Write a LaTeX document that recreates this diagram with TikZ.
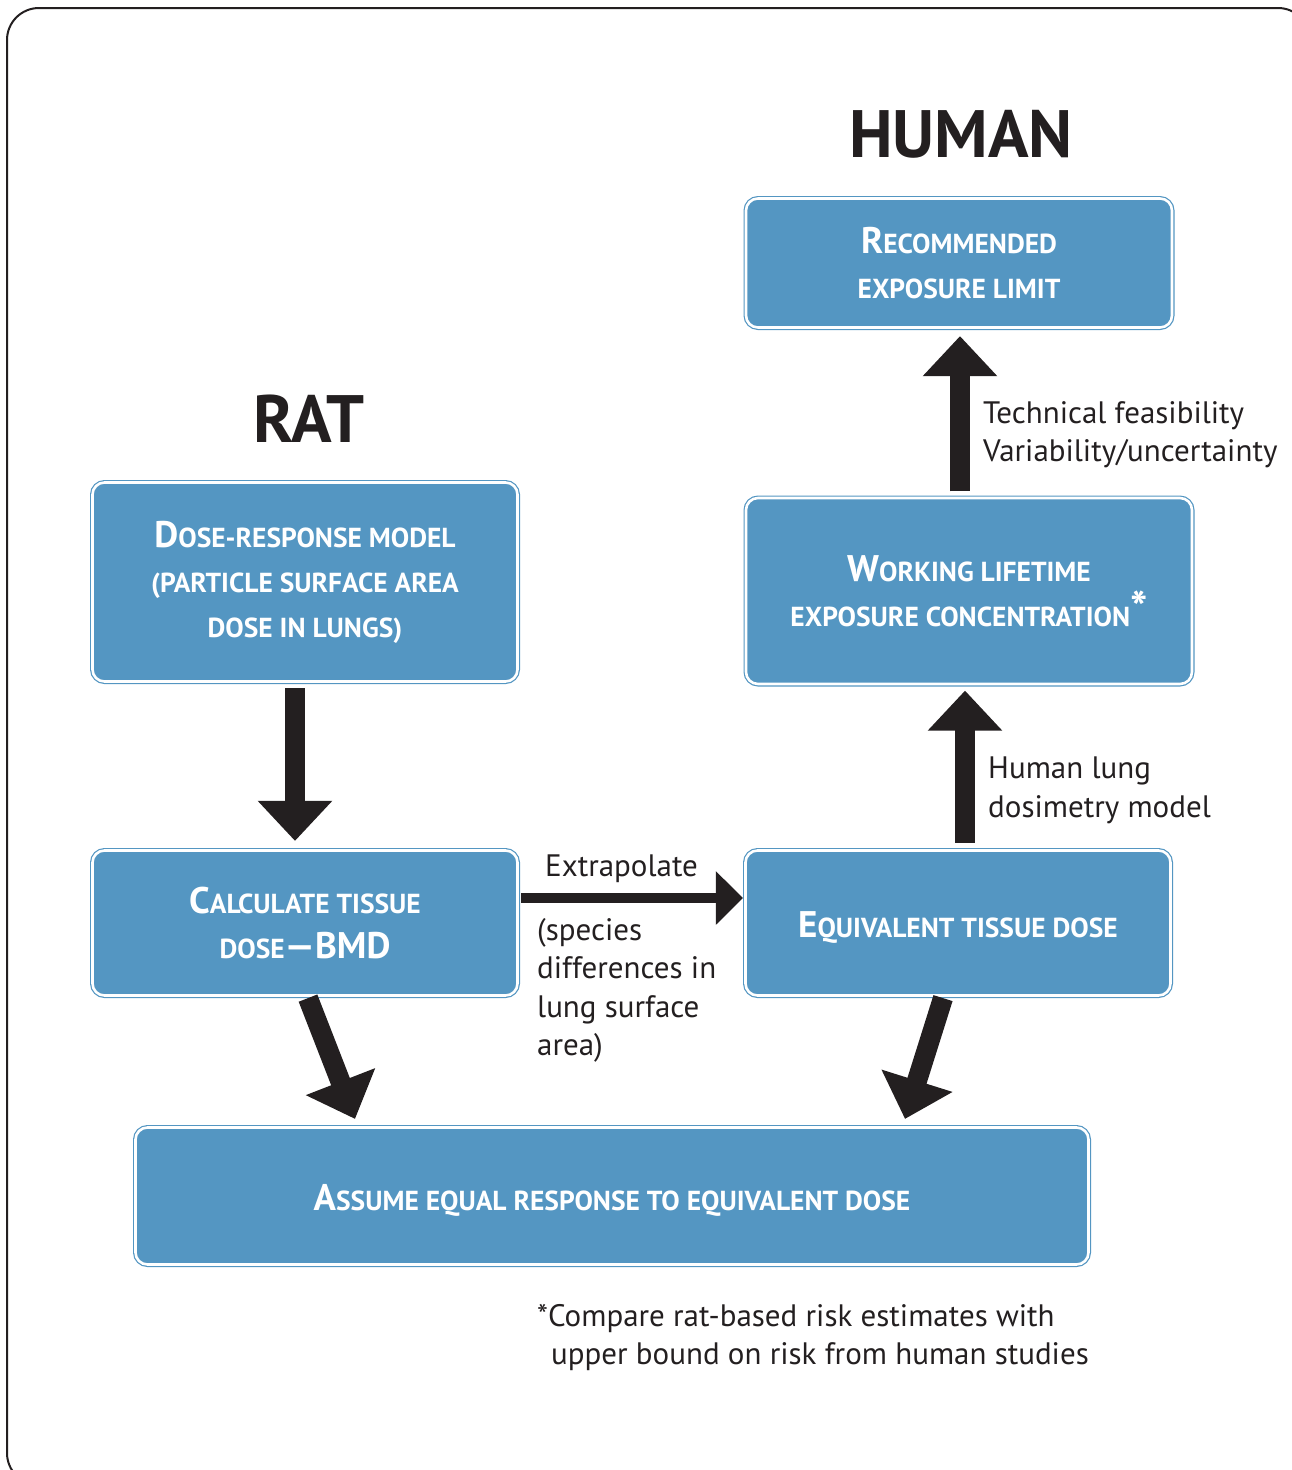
\documentclass[tikz,border=0pt]{standalone}
\usepackage{fontspec}
\setmainfont{PT Sans}
\usetikzlibrary{arrows.meta, positioning}
\definecolor{boxblue}{HTML}{5496C2}
\definecolor{inkblack}{HTML}{231F20}
\newcommand{\capinit}[1]{{\fontsize{37}{45}\selectfont #1}}

\begin{document}
\begin{tikzpicture}[x=1pt, y=-1pt,
    flowbox/.style={draw=boxblue, double=white, line width=1.2pt, double distance=2.6pt,
      fill=boxblue, rounded corners=12pt, text=white, align=center,
      font=\fontsize{27.5}{45}\selectfont\bfseries,
      execute at begin node={\rule{0pt}{35pt}}},
    blockarrow/.style={draw=inkblack, line width=20pt, -{Triangle[length=40pt, width=72pt]}},
    note/.style={inner sep=0pt, align=left, anchor=north west, text=inkblack,
      font=\fontsize{31}{38.5}\selectfont},
    title/.style={inner sep=0pt, anchor=base, text=inkblack, font=\fontsize{67}{70}\selectfont\bfseries}]
  \useasboundingbox (0,0) rectangle (1292,1470);
  % frame
  \draw[inkblack, line width=2pt, rounded corners=32pt] (7,8) rectangle (1310,1485);

  % titles
  \node[title] (human) at (961,157) {HUMAN};
  \node[title] (rat) at (309,442) {RAT};

  % boxes
  \node[flowbox, minimum width=425pt, minimum height=199pt] (dose) at (305,582)
    {\capinit{D}OSE-RESPONSE MODEL\\(PARTICLE SURFACE AREA\\DOSE IN LUNGS)};
  \node[flowbox, minimum width=425pt, minimum height=145pt] (calc) at (305,923)
    {\capinit{C}ALCULATE TISSUE\\DOSE\capinit{---BMD}};
  \node[flowbox, minimum width=425pt, minimum height=145pt] (equiv) at (958,923)
    {\capinit{E}QUIVALENT TISSUE DOSE};
  \node[flowbox, minimum width=446pt, minimum height=186pt] (work) at (969,591)
    {\capinit{W}ORKING LIFETIME\\EXPOSURE CONCENTRATION\raisebox{2pt}{\fontsize{46}{45}\selectfont *}};
  \node[flowbox, minimum width=426pt, minimum height=129pt] (rec) at (959,263)
    {\capinit{R}ECOMMENDED\\EXPOSURE LIMIT};
  \node[flowbox, minimum width=953pt, minimum height=137pt] (assume) at (612,1196)
    {\capinit{A}SSUME EQUAL RESPONSE TO EQUIVALENT DOSE};

  % arrows
  \draw[blockarrow] ([xshift=-10pt, yshift=-6pt]dose.south) -- ([xshift=-10pt, yshift=9pt]calc.north);
  \draw[blockarrow] ([xshift=-9pt, yshift=6pt]work.north) -- ([xshift=1pt, yshift=-8pt]rec.south);
  \draw[blockarrow] ([xshift=7pt, yshift=7pt]equiv.north) -- ([xshift=-4pt, yshift=-6pt]work.south);
  \draw[draw=inkblack, line width=10pt, -{Triangle[length=27pt, width=52pt]}]
    ([xshift=3pt, yshift=25pt]calc.east) -- ([xshift=-2pt, yshift=25pt]equiv.west);
  \draw[blockarrow] ([xshift=3pt, yshift=-2pt]calc.south) -- ([xshift=-257pt, yshift=8pt]assume.north);
  \draw[blockarrow] ([xshift=-15pt, yshift=-2pt]equiv.south) -- ([xshift=293pt, yshift=8pt]assume.north);

  % labels
  \node[note, anchor=base west] (extra) at (545,876) {Extrapolate};
  \node[note] (species) at (537,918) {(species\\differences in\\lung surface\\area)};
  \node[note] (tech) at (983,401) {Technical feasibility\\Variability/uncertainty};
  \node[note] (lung) at (988,757) {Human lung\\dosimetry model};
  \node[note] (foot) at (537,1304) {*Compare rat-based risk estimates with\\\hspace*{14pt}upper bound on risk from human studies};
\end{tikzpicture}
\end{document}
